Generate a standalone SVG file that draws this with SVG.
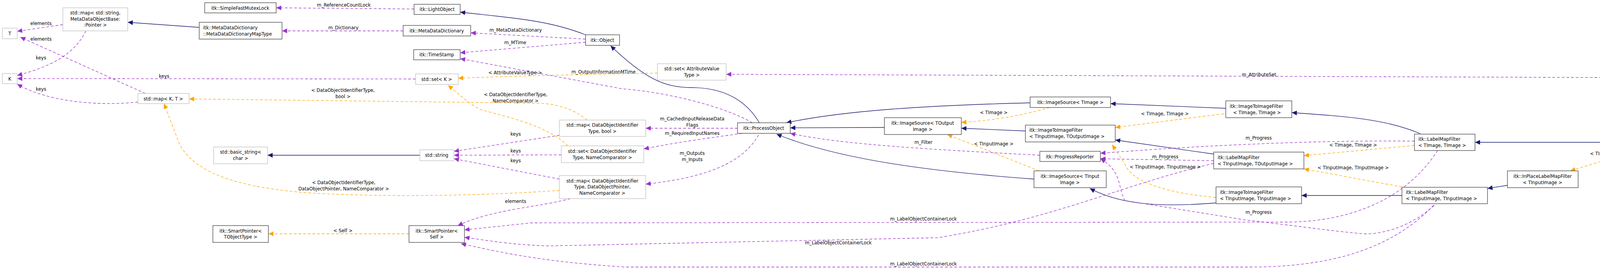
<svg xmlns="http://www.w3.org/2000/svg" width="4693" height="688" viewBox="0 0 4693 688">
<style>
text{font-family:"DejaVu Sans Condensed","DejaVu Sans","Liberation Sans",sans-serif;font-size:13px;fill:#000}
.n rect{fill:#fff;stroke:#404040;stroke-width:1.3}
.g rect{fill:#fff;stroke:#bfbfbf;stroke-width:1.3}
.sel rect{fill:#bfbfbf;stroke:#404040;stroke-width:1.3}
.c{text-anchor:middle}
.inh{fill:none;stroke:#191970;stroke-width:1.3;marker-end:url(#an)}
.use{fill:none;stroke:#9a32cd;stroke-width:1.3;stroke-dasharray:7,5;marker-end:url(#ap)}
.tpl{fill:none;stroke:#ffa500;stroke-width:1.3;stroke-dasharray:7,5;marker-end:url(#ao)}
.lbl{text-anchor:middle}
</style>
<defs>
<marker id="an" markerUnits="userSpaceOnUse" markerWidth="14" markerHeight="12" refX="13" refY="6" orient="auto"><path d="M0,0L13,6L0,12z" fill="#191970"/></marker>
<marker id="ap" markerUnits="userSpaceOnUse" markerWidth="14" markerHeight="12" refX="13" refY="6" orient="auto"><path d="M0,0L13,6L0,12z" fill="#9a32cd"/></marker>
<marker id="ao" markerUnits="userSpaceOnUse" markerWidth="14" markerHeight="12" refX="13" refY="6" orient="auto"><path d="M0,0L13,6L0,12z" fill="#ffa500"/></marker>
</defs>
<rect width="4693" height="688" fill="#fff"/>
<g id="connectors">
<path class="inh" d="M510,70L327,57"/>
<path class="use" d="M1032,79L722,79"/>
<path class="use" d="M1060,23L707,20"/>
<path class="inh" d="M1499,89C1400,50 1300,45 1178,31"/>
<path class="use" d="M1499,100L1205,84"/>
<path class="use" d="M1499,108L1178,135"/>
<path class="inh" d="M1944,314C1900,240 1830,224 1770,224C1700,224 1650,200 1563,117"/>
<path class="use" d="M1926,314C1850,270 1700,235 1592,227L1178,150"/>
<path class="use" d="M1064,202L44,201"/>
<path class="tpl" d="M1683,187C1500,190 1300,195 1173,200"/>
<path class="use" d="M4469,231C4420,210 4360,199 4291,199L1859,190"/>
<path class="use" d="M1888,328L1653,328"/>
<path class="use" d="M1900,341C1800,355 1720,366 1648,381"/>
<path class="use" d="M1942,345C1900,420 1800,455 1653,471"/>
<path class="use" d="M1432,346L1162,387"/>
<path class="use" d="M1437,396L1162,397"/>
<path class="use" d="M1432,458L1162,406"/>
<path class="use" d="M1460,508C1380,530 1260,535 1172,577"/>
<path class="inh" d="M1075,397L685,397"/>
<path class="tpl" d="M1503,307C1470,280 1430,266 1380,264L484,253"/>
<path class="tpl" d="M1454,373C1400,320 1300,300 1230,280C1200,265 1180,245 1147,218"/>
<path class="tpl" d="M1432,487C1250,500 1000,505 800,494C600,480 500,440 460,370L420,265"/>
<path class="use" d="M161,63L44,80"/>
<path class="use" d="M220,79C190,140 130,170 44,193"/>
<path class="use" d="M372,239L52,95"/>
<path class="use" d="M353,261C250,272 120,260 44,215"/>
<path class="tpl" d="M1047,598L687,598"/>
<path class="inh" d="M2264,326L2023,327"/>
<path class="inh" d="M2637,263C2350,270 2150,285 2013,314"/>
<path class="inh" d="M2647,458C2400,440 2150,410 1988,343"/>
<path class="use" d="M2662,397C2400,383 2150,370 2023,341"/>
<path class="tpl" d="M2687,275C2600,300 2520,310 2461,313"/>
<path class="inh" d="M2625,335L2461,328"/>
<path class="tpl" d="M2660,437L2425,344"/>
<path class="inh" d="M3138,277L2843,265"/>
<path class="tpl" d="M3133,291L2855,326"/>
<path class="inh" d="M3107,394L2855,358"/>
<path class="use" d="M3107,411L2817,406"/>
<path class="inh" d="M3113,519C3000,528 2880,530 2790,482"/>
<path class="tpl" d="M3113,505C3000,495 2900,470 2880,420L2847,370"/>
<path class="inh" d="M3636,342C3550,305 3450,298 3307,288"/>
<path class="tpl" d="M3621,372L3338,398"/>
<path class="use" d="M3621,361C3400,358 3100,370 2817,392"/>
<path class="inh" d="M3589,500L3332,500"/>
<path class="tpl" d="M3589,478L3338,432"/>
<path class="use" d="M3680,385C3620,480 3500,565 3300,568L1361,570L1189,588"/>
<path class="use" d="M3107,418C2880,470 2700,560 2400,608L1400,629C1300,625 1250,615 1189,607"/>
<path class="use" d="M3670,525C3560,640 3400,683 3200,683L1600,683C1400,670 1300,650 1180,623"/>
<path class="use" d="M3672,525C3600,590 3520,600 3490,598C3400,590 3300,575 3191,563L2880,513C2860,480 2875,440 2817,406"/>
<path class="inh" d="M4170,364L3776,364"/>
<path class="inh" d="M4489,275L4324,343"/>
<path class="tpl" d="M4190,385L4020,437"/>
<path class="inh" d="M3859,474L3808,482"/>
<text class="lbl" x="105" y="64">elements</text>
<text class="lbl" x="105" y="104">elements</text>
<text class="lbl" x="105" y="152">keys</text>
<text class="lbl" x="420" y="199">keys</text>
<text class="lbl" x="105" y="232">keys</text>
<text class="lbl" x="880" y="17">m_ReferenceCountLock</text>
<text class="lbl" x="879" y="75">m_Dictionary</text>
<text class="lbl" x="1320" y="81">m_MetaDataDictionary</text>
<text class="lbl" x="1319" y="113">m_MTime</text>
<text class="lbl" x="1319" y="190">&lt; AttributeValueType &gt;</text>
<text class="lbl" x="1545" y="188">m_OutputInformationMTime</text>
<text class="lbl" x="878" y="235">&lt; DataObjectIdentifierType,</text>
<text class="lbl" x="878" y="251">bool &gt;</text>
<text class="lbl" x="1320" y="246">&lt; DataObjectIdentifierType,</text>
<text class="lbl" x="1320" y="262">NameComparator &gt;</text>
<text class="lbl" x="1320" y="347">keys</text>
<text class="lbl" x="1320" y="390">keys</text>
<text class="lbl" x="1320" y="415">keys</text>
<text class="lbl" x="880" y="471">&lt; DataObjectIdentifierType,</text>
<text class="lbl" x="880" y="487">DataObjectPointer, NameComparator &gt;</text>
<text class="lbl" x="1320" y="519">elements</text>
<text class="lbl" x="878" y="594">&lt; Self &gt;</text>
<text class="lbl" x="1772" y="308">m_CachedInputReleaseData</text>
<text class="lbl" x="1772" y="324">Flags</text>
<text class="lbl" x="1772" y="345">m_RequiredInputNames</text>
<text class="lbl" x="1772" y="396">m_Outputs</text>
<text class="lbl" x="1772" y="412">m_Inputs</text>
<text class="lbl" x="2364" y="368">m_Filter</text>
<text class="lbl" x="2364" y="564">m_LabelObjectContainerLock</text>
<text class="lbl" x="2146" y="625">m_LabelObjectContainerLock</text>
<text class="lbl" x="2364" y="679">m_LabelObjectContainerLock</text>
<text class="lbl" x="3223" y="195">m_AttributeSet</text>
<text class="lbl" x="2544" y="292">&lt; TImage &gt;</text>
<text class="lbl" x="2982" y="295">&lt; TImage, TImage &gt;</text>
<text class="lbl" x="2544" y="372">&lt; TInputImage &gt;</text>
<text class="lbl" x="2983" y="405">m_Progress</text>
<text class="lbl" x="2983" y="431">&lt; TInputImage, TInputImage &gt;</text>
<text class="lbl" x="3222" y="357">m_Progress</text>
<text class="lbl" x="3222" y="547">m_Progress</text>
<text class="lbl" x="3464" y="375">&lt; TImage, TImage &gt;</text>
<text class="lbl" x="3464" y="433">&lt; TInputImage, TInputImage &gt;</text>
<text class="lbl" x="4106" y="397">&lt; TImage &gt;</text>
</g>
<g id="n_sfml" class="n"><rect x="524" y="7" width="183" height="26"/><text class="c" x="615" y="25">itk::SimpleFastMutexLock</text></g>
<g id="n_mapstr" class="g"><rect x="161" y="20" width="166" height="59"/><text class="c" x="244" y="37">std::map&lt; std::string,</text><text class="c" x="244" y="53">MetaDataObjectBase:</text><text class="c" x="244" y="68">:Pointer &gt;</text></g>
<g id="n_mddmt" class="n"><rect x="510" y="57" width="212" height="43"/><text x="520" y="75">itk::MetaDataDictionary</text><text x="520" y="91">::MetaDataDictionaryMapType</text></g>
<g id="n_T" class="g"><rect x="6" y="72" width="38" height="27"/><text class="c" x="25" y="90">T</text></g>
<g id="n_K" class="g"><rect x="6" y="188" width="38" height="26"/><text class="c" x="25" y="206">K</text></g>
<g id="n_mapKT" class="g"><rect x="353" y="239" width="131" height="26"/><text class="c" x="418" y="257">std::map&lt; K, T &gt;</text></g>
<g id="n_bstr" class="g"><rect x="547" y="376" width="138" height="43"/><text class="c" x="616" y="393">std::basic_string&lt;</text><text class="c" x="616" y="409">char &gt;</text></g>
<g id="n_spT" class="n"><rect x="545" y="577" width="142" height="43"/><text class="c" x="616" y="595">itk::SmartPointer&lt;</text><text class="c" x="616" y="610">TObjectType &gt;</text></g>
<g id="n_lo" class="n"><rect x="1060" y="11" width="118" height="26"/><text class="c" x="1119" y="28">itk::LightObject</text></g>
<g id="n_mdd" class="n"><rect x="1032" y="65" width="173" height="27"/><text class="c" x="1118" y="83">itk::MetaDataDictionary</text></g>
<g id="n_obj" class="n"><rect x="1499" y="89" width="87" height="27"/><text class="c" x="1542" y="107">itk::Object</text></g>
<g id="n_ts" class="n"><rect x="1059" y="127" width="119" height="26"/><text class="c" x="1118" y="144">itk::TimeStamp</text></g>
<g id="n_setK" class="g"><rect x="1064" y="189" width="109" height="27"/><text class="c" x="1118" y="207">std::set&lt; K &gt;</text></g>
<g id="n_mapbool" class="g"><rect x="1432" y="307" width="221" height="42"/><text class="c" x="1542" y="324">std::map&lt; DataObjectIdentifier</text><text class="c" x="1542" y="340">Type, bool &gt;</text></g>
<g id="n_str" class="g"><rect x="1075" y="383" width="87" height="28"/><text class="c" x="1118" y="401">std::string</text></g>
<g id="n_setNC" class="g"><rect x="1437" y="373" width="211" height="43"/><text class="c" x="1542" y="391">std::set&lt; DataObjectIdentifier</text><text class="c" x="1542" y="407">Type, NameComparator &gt;</text></g>
<g id="n_mapDOP" class="g"><rect x="1432" y="449" width="221" height="59"/><text class="c" x="1542" y="467">std::map&lt; DataObjectIdentifier</text><text class="c" x="1542" y="482">Type, DataObjectPointer,</text><text class="c" x="1542" y="498">NameComparator &gt;</text></g>
<g id="n_spS" class="n"><rect x="1047" y="577" width="142" height="43"/><text class="c" x="1118" y="595">itk::SmartPointer&lt;</text><text class="c" x="1118" y="610">Self &gt;</text></g>
<g id="n_setAVT" class="g"><rect x="1683" y="163" width="176" height="42"/><text class="c" x="1771" y="180">std::set&lt; AttributeValue</text><text class="c" x="1771" y="196">Type &gt;</text></g>
<g id="n_po" class="n"><rect x="1888" y="314" width="135" height="27"/><text class="c" x="1955" y="332">itk::ProcessObject</text></g>
<g id="n_isTO" class="n"><rect x="2264" y="301" width="197" height="43"/><text class="c" x="2362" y="319">itk::ImageSource&lt; TOutput</text><text class="c" x="2362" y="335">Image &gt;</text></g>
<g id="n_isTI" class="n"><rect x="2637" y="248" width="206" height="27"/><text class="c" x="2740" y="266">itk::ImageSource&lt; TImage &gt;</text></g>
<g id="n_itiIO" class="n"><rect x="2625" y="320" width="230" height="43"/><text x="2635" y="337">itk::ImageToImageFilter</text><text x="2635" y="353">&lt; TInputImage, TOutputImage &gt;</text></g>
<g id="n_pr" class="n"><rect x="2662" y="387" width="155" height="26"/><text class="c" x="2739" y="405">itk::ProgressReporter</text></g>
<g id="n_isTIn" class="n"><rect x="2647" y="437" width="185" height="43"/><text class="c" x="2739" y="455">itk::ImageSource&lt; TInput</text><text class="c" x="2739" y="471">Image &gt;</text></g>
<g id="n_itiTT" class="n"><rect x="3138" y="258" width="169" height="43"/><text x="3148" y="276">itk::ImageToImageFilter</text><text x="3157" y="292">&lt; TImage, TImage &gt;</text></g>
<g id="n_lmfIO" class="n"><rect x="3107" y="389" width="231" height="43"/><text x="3117" y="407">itk::LabelMapFilter</text><text x="3117" y="423">&lt; TInputImage, TOutputImage &gt;</text></g>
<g id="n_itiII" class="n"><rect x="3113" y="478" width="219" height="43"/><text x="3123" y="496">itk::ImageToImageFilter</text><text x="3123" y="512">&lt; TInputImage, TInputImage &gt;</text></g>
<g id="n_lmfTT" class="n"><rect x="3621" y="343" width="155" height="42"/><text x="3631" y="360">itk::LabelMapFilter</text><text x="3631" y="376">&lt; TImage, TImage &gt;</text></g>
<g id="n_lmfII" class="n"><rect x="3589" y="479" width="219" height="42"/><text x="3599" y="496">itk::LabelMapFilter</text><text x="3599" y="512">&lt; TInputImage, TInputImage &gt;</text></g>
<g id="n_iplTI" class="n"><rect x="3859" y="437" width="181" height="43"/><text class="c" x="3949" y="455">itk::InPlaceLabelMapFilter</text><text class="c" x="3949" y="471">&lt; TInputImage &gt;</text></g>
<g id="n_iplT" class="n"><rect x="4170" y="343" width="182" height="42"/><text class="c" x="4261" y="360">itk::InPlaceLabelMapFilter</text><text class="c" x="4261" y="376">&lt; TImage &gt;</text></g>
<g id="n_asl" class="sel"><rect x="4403" y="232" width="284" height="43"/><text x="4414" y="249">itk::AttributeSelectionLabel</text><text x="4414" y="265">MapFilter&lt; TImage, TAttributeAccessor &gt;</text></g>
</svg>
